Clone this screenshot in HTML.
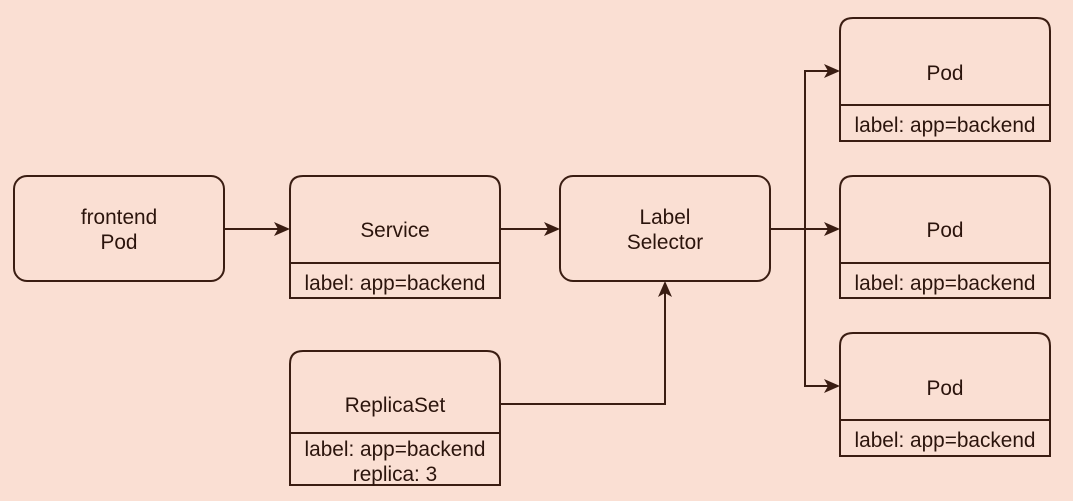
<!DOCTYPE html>
<html><head><meta charset="utf-8"><style>
html,body{margin:0;padding:0;background:#FADFD3;}
svg{display:block}
text{font-family:"Liberation Sans",sans-serif;font-size:20.8px;fill:#2b140c;text-anchor:middle}
</style></head><body>
<svg width="1073" height="501" viewBox="0 0 1073 501" xmlns="http://www.w3.org/2000/svg">
<rect width="1073" height="501" fill="#FADFD3"/>
<g fill="none" stroke="#3a1d12" stroke-width="2">
<rect x="14" y="176" width="210" height="105" rx="13"/>
<rect x="560" y="176" width="210" height="105" rx="13"/>
<path d="M290,298 V189 Q290,176 303,176 H487 Q500,176 500,189 V298 Z M290,263 H500"/>
<path d="M290,485 V364 Q290,351 303,351 H487 Q500,351 500,364 V485 Z M290,433 H500"/>
<path d="M840,141 V31 Q840,18 853,18 H1037 Q1050,18 1050,31 V141 Z M840,105 H1050"/>
<path d="M840,298 V189 Q840,176 853,176 H1037 Q1050,176 1050,189 V298 Z M840,263 H1050"/>
<path d="M840,456 V346 Q840,333 853,333 H1037 Q1050,333 1050,346 V456 Z M840,420 H1050"/>
<path d="M224,229 H280"/>
<path d="M500,229 H550"/>
<path d="M500,404 H665 V290"/>
<path d="M770,229 H830"/>
<path d="M805,229 V71 H830"/>
<path d="M805,229 V386 H830"/>
</g>
<g fill="#3a1d12">
<path d="M290,229 L274,222 L278,229 L274,236 Z"/>
<path d="M560,229 L544,222 L548,229 L544,236 Z"/>
<path d="M840,229 L824,222 L828,229 L824,236 Z"/>
<path d="M840,71 L824,64 L828,71 L824,78 Z"/>
<path d="M840,386 L824,379 L828,386 L824,393 Z"/>
<path d="M665,281 L658,297 L665,293 L672,297 Z"/>
</g>
<text x="119" y="224">frontend</text>
<text x="119" y="249">Pod</text>
<text x="395" y="237">Service</text>
<text x="395" y="290">label: app=backend</text>
<text x="665" y="224">Label</text>
<text x="665" y="249">Selector</text>
<text x="395" y="412">ReplicaSet</text>
<text x="395" y="456">label: app=backend</text>
<text x="395" y="481">replica: 3</text>
<text x="945" y="80">Pod</text>
<text x="945" y="132">label: app=backend</text>
<text x="945" y="237">Pod</text>
<text x="945" y="290">label: app=backend</text>
<text x="945" y="395">Pod</text>
<text x="945" y="447">label: app=backend</text>
</svg>
</body></html>
